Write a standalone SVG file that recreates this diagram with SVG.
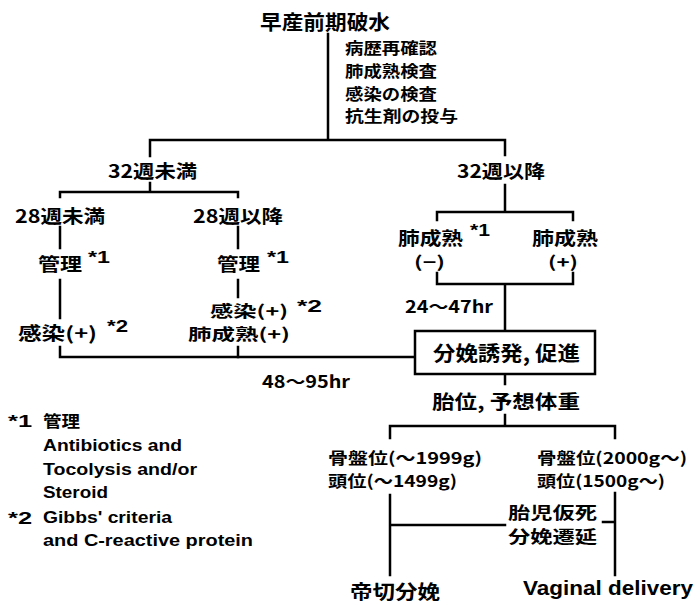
<svg xmlns="http://www.w3.org/2000/svg" width="700" height="606" viewBox="0 0 700 606">
<style>
.t{font-family:"Noto Sans CJK JP","Liberation Sans",sans-serif;font-weight:bold;fill:#000;dominant-baseline:central}
.e{font-family:"Liberation Sans","Noto Sans CJK JP",sans-serif;font-weight:bold;fill:#000;dominant-baseline:central}
.l{fill:none;stroke:#000;stroke-width:2.5;stroke-linecap:square}
</style>
<rect width="700" height="606" fill="#fff"/>
<g id="connectors">
<path class="l" d="M328 34V140M150 140H505M150 140V156M505 140V155"/>
<path class="l" d="M150 183V192M60 197V192H238V197"/>
<path class="l" d="M60 227V248M60 280V318M60 347V357H415"/>
<path class="l" d="M238 227V248M238 280V297M238 347V357"/>
<path class="l" d="M505 185V212M437 220V212H573V220"/>
<path class="l" d="M437 273V284H573V273M505 284V331"/>
<path class="l" d="M505 374V384M505 415V426M390 438V426H615V438"/>
<path class="l" d="M390 495V575M390 525H505M603 522H615M615 493V575"/>
</g>
<g id="n-title"><text class="t" x="260" y="21" font-size="20" textLength="130" lengthAdjust="spacingAndGlyphs">早産前期破水</text></g>
<g id="n-list">
<text class="t" x="345" y="47" font-size="15.5" textLength="92" lengthAdjust="spacingAndGlyphs">病歴再確認</text>
<text class="t" x="345" y="70" font-size="15.5" textLength="92" lengthAdjust="spacingAndGlyphs">肺成熟検査</text>
<text class="t" x="345" y="92.5" font-size="15.5" textLength="92" lengthAdjust="spacingAndGlyphs">感染の検査</text>
<text class="t" x="345" y="115" font-size="15.5" textLength="113" lengthAdjust="spacingAndGlyphs">抗生剤の投与</text>
</g>
<g id="n-lt32"><text class="t" x="108" y="170" font-size="18" textLength="89" lengthAdjust="spacingAndGlyphs">32週未満</text></g>
<g id="n-ge32"><text class="t" x="457" y="170" font-size="18" textLength="88" lengthAdjust="spacingAndGlyphs">32週以降</text></g>
<g id="n-lt28"><text class="t" x="15" y="215" font-size="18" textLength="90" lengthAdjust="spacingAndGlyphs">28週未満</text></g>
<g id="n-ge28"><text class="t" x="193" y="215" font-size="18" textLength="90" lengthAdjust="spacingAndGlyphs">28週以降</text></g>
<g id="n-kanri1">
<text class="t" x="38" y="263" font-size="18" textLength="44" lengthAdjust="spacingAndGlyphs">管理</text>
<text class="e" x="88" y="257" font-size="16" textLength="22" lengthAdjust="spacingAndGlyphs">*1</text>
</g>
<g id="n-kanri2">
<text class="t" x="217" y="263" font-size="18" textLength="43" lengthAdjust="spacingAndGlyphs">管理</text>
<text class="e" x="267" y="257" font-size="16" textLength="22" lengthAdjust="spacingAndGlyphs">*1</text>
</g>
<g id="n-inf1">
<text class="t" x="18" y="332" font-size="18" textLength="79" lengthAdjust="spacingAndGlyphs">感染(+)</text>
<text class="e" x="107" y="326" font-size="16" textLength="21" lengthAdjust="spacingAndGlyphs">*2</text>
</g>
<g id="n-inf2">
<text class="t" x="210" y="310" font-size="16" textLength="78" lengthAdjust="spacingAndGlyphs">感染(+)</text>
<text class="e" x="297" y="306" font-size="16" textLength="25" lengthAdjust="spacingAndGlyphs">*2</text>
<text class="t" x="188" y="333" font-size="16" textLength="102" lengthAdjust="spacingAndGlyphs">肺成熟(+)</text>
</g>
<g id="n-lungneg">
<text class="t" x="398" y="237" font-size="18" textLength="65" lengthAdjust="spacingAndGlyphs">肺成熟</text>
<text class="e" x="470" y="230" font-size="16" textLength="20" lengthAdjust="spacingAndGlyphs">*1</text>
<text class="t" x="414" y="261" font-size="16" textLength="31" lengthAdjust="spacingAndGlyphs">(−)</text>
</g>
<g id="n-lungpos">
<text class="t" x="532" y="237" font-size="18" textLength="66" lengthAdjust="spacingAndGlyphs">肺成熟</text>
<text class="t" x="548" y="261" font-size="16" textLength="30" lengthAdjust="spacingAndGlyphs">(+)</text>
</g>
<g id="n-hr1"><text class="t" x="405" y="305" font-size="17" textLength="88" lengthAdjust="spacingAndGlyphs">24〜47hr</text></g>
<g id="n-hr2"><text class="t" x="262" y="380" font-size="17" textLength="88" lengthAdjust="spacingAndGlyphs">48〜95hr</text></g>
<g id="n-induce">
<rect x="415" y="331" width="180" height="43" fill="#fff" stroke="#000" stroke-width="2.5"/>
<text class="t" x="433" y="352" font-size="20" textLength="147" lengthAdjust="spacingAndGlyphs">分娩誘発, 促進</text>
</g>
<g id="n-pos"><text class="t" x="432" y="400" font-size="19" textLength="148" lengthAdjust="spacingAndGlyphs">胎位, 予想体重</text></g>
<g id="n-small">
<text class="t" x="328" y="457" font-size="16" textLength="154" lengthAdjust="spacingAndGlyphs">骨盤位(〜1999g)</text>
<text class="t" x="328" y="480" font-size="16" textLength="129" lengthAdjust="spacingAndGlyphs">頭位(〜1499g)</text>
</g>
<g id="n-large">
<text class="t" x="537" y="457" font-size="16" textLength="150" lengthAdjust="spacingAndGlyphs">骨盤位(2000g〜)</text>
<text class="t" x="537" y="480" font-size="16" textLength="128" lengthAdjust="spacingAndGlyphs">頭位(1500g〜)</text>
</g>
<g id="n-distress">
<text class="t" x="508" y="512" font-size="16.5" textLength="89" lengthAdjust="spacingAndGlyphs">胎児仮死</text>
<text class="t" x="508" y="536" font-size="16.5" textLength="89" lengthAdjust="spacingAndGlyphs">分娩遷延</text>
</g>
<g id="n-cs"><text class="t" x="350" y="590" font-size="19" textLength="90" lengthAdjust="spacingAndGlyphs">帝切分娩</text></g>
<g id="n-vd"><text class="e" x="523" y="588" font-size="20" textLength="170" lengthAdjust="spacingAndGlyphs">Vaginal delivery</text></g>
<g id="legend">
<text class="e" x="8" y="421" font-size="16" textLength="24" lengthAdjust="spacingAndGlyphs">*1</text>
<text class="t" x="43" y="420" font-size="16" textLength="37" lengthAdjust="spacingAndGlyphs">管理</text>
<text class="e" x="43" y="445" font-size="16" textLength="139" lengthAdjust="spacingAndGlyphs">Antibiotics and</text>
<text class="e" x="43" y="469" font-size="16" textLength="154" lengthAdjust="spacingAndGlyphs">Tocolysis and/or</text>
<text class="e" x="43" y="492" font-size="16" textLength="65" lengthAdjust="spacingAndGlyphs">Steroid</text>
<text class="e" x="8" y="518" font-size="16" textLength="24" lengthAdjust="spacingAndGlyphs">*2</text>
<text class="e" x="43" y="517" font-size="16" textLength="129" lengthAdjust="spacingAndGlyphs">Gibbs' criteria</text>
<text class="e" x="43" y="540" font-size="16" textLength="210" lengthAdjust="spacingAndGlyphs">and C-reactive protein</text>
</g>
</svg>
